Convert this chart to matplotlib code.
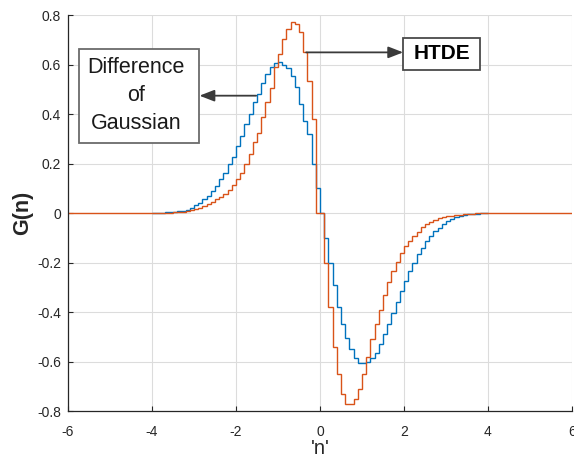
import numpy as np
import matplotlib
matplotlib.use("Agg")
import matplotlib.pyplot as plt
from matplotlib.patches import Rectangle

plt.rcParams['font.family'] = ['Liberation Sans', 'DejaVu Sans']

# ---- data (stairs: value of each 0.1-wide step, starting at the listed edge) ----
step_edges = np.round(np.arange(-4.0, 4.0001, 0.1), 1)   # 81 edges, 80 steps

dog_values = [
    0.001, 0.002, 0.002, 0.003, 0.004, 0.006, 0.008, 0.010, 0.014, 0.020,
    0.032, 0.042, 0.055, 0.069, 0.089, 0.109, 0.136, 0.163, 0.197, 0.227,
    0.270, 0.310, 0.360, 0.400, 0.447, 0.480, 0.527, 0.560, 0.590, 0.605,
    0.610, 0.600, 0.585, 0.555, 0.510, 0.440, 0.370, 0.320, 0.200, 0.100,
    0.000, -0.100, -0.200, -0.290, -0.380, -0.450, -0.505, -0.550, -0.585, -0.605,
    -0.605, -0.600, -0.585, -0.565, -0.530, -0.490, -0.447, -0.403, -0.360, -0.316,
    -0.273, -0.235, -0.200, -0.167, -0.140, -0.113, -0.093, -0.073, -0.059, -0.046,
    -0.032, -0.023, -0.017, -0.012, -0.008, -0.006, -0.004, -0.003, -0.002, -0.001,
]

htde_values = [
    0.001, 0.001, 0.001, 0.002, 0.002, 0.003, 0.004, 0.005, 0.008, 0.011,
    0.015, 0.021, 0.028, 0.038, 0.046, 0.055, 0.066, 0.078, 0.092, 0.113,
    0.136, 0.163, 0.197, 0.237, 0.285, 0.325, 0.386, 0.447, 0.507, 0.588,
    0.643, 0.703, 0.744, 0.770, 0.763, 0.730, 0.650, 0.534, 0.380, 0.000,
    0.000, -0.200, -0.380, -0.540, -0.650, -0.730, -0.770, -0.770, -0.750, -0.710,
    -0.650, -0.580, -0.510, -0.450, -0.390, -0.333, -0.278, -0.235, -0.198, -0.160,
    -0.134, -0.113, -0.093, -0.076, -0.057, -0.046, -0.036, -0.030, -0.021, -0.016,
    -0.012, -0.011, -0.008, -0.007, -0.006, -0.004, -0.003, -0.002, -0.001, -0.001,
]
htde_outer = [-6.0, 6.0]          # HTDE is zero out to the axis limits

x_ticks = [-6, -4, -2, 0, 2, 4, 6]
y_ticks = [-0.8, -0.6, -0.4, -0.2, 0, 0.2, 0.4, 0.6, 0.8]
y_ticklabels = ['-0.8', '-0.6', '-0.4', '-0.2', '0', '0.2', '0.4', '0.6', '0.8']

BLUE = '#0072BD'
ORANGE = '#D95319'
DARK = '#262626'

fig = plt.figure(figsize=(5.74, 4.61), dpi=100)
ax = fig.add_axes([68/574, 1-411/461, (572-68)/574, (411-15)/461])

ax.stairs(dog_values, step_edges, color=BLUE, lw=1.0, baseline=None)
htde_edges = np.concatenate([[htde_outer[0]], step_edges, [htde_outer[1]]])
htde_full = np.concatenate([[0.0], htde_values, [0.0]])
ax.stairs(htde_full, htde_edges, color=ORANGE, lw=1.0, baseline=None)

ax.set_xlim(-6, 6)
ax.set_ylim(-0.8, 0.8)
ax.set_xticks(x_ticks)
ax.set_xticklabels([str(t) for t in x_ticks])
ax.set_yticks(y_ticks)
ax.set_yticklabels(y_ticklabels)
ax.grid(True, color='#dcdcdc', lw=0.8)
ax.set_axisbelow(True)
for s in ['top', 'right']:
    ax.spines[s].set_visible(False)
for s in ['left', 'bottom']:
    ax.spines[s].set_color(DARK)
    ax.spines[s].set_linewidth(0.9)
ax.tick_params(direction='in', length=3.5, width=0.8, colors=DARK,
               labelsize=10)
ax.tick_params(axis='x', pad=10)
ax.tick_params(axis='y', pad=5)

ax.set_xlabel("'n'", fontsize=14.5, color=DARK, labelpad=0)
ax.set_ylabel("G(n)", fontsize=15.5, fontweight='bold', color=DARK, labelpad=3)

# ---- annotations ----
ax.add_patch(Rectangle((-5.73, 0.283), 2.86, 0.381, facecolor='white',
                       edgecolor='#6b6b6b', lw=1.3, zorder=5))
ax.text(-4.38, 0.474, "Difference\nof\nGaussian", ha='center', va='center',
        fontsize=15.5, color='#1a1a1a', linespacing=1.45, zorder=6)
ax.annotate('', xy=(-2.87, 0.474), xytext=(-1.52, 0.474),
            arrowprops=dict(arrowstyle='-|>,head_length=0.9,head_width=0.35',
                            color='#3a3a3a', lw=1.3, shrinkA=0, shrinkB=0),
            zorder=6)

ax.add_patch(Rectangle((1.98, 0.579), 1.84, 0.130, facecolor='white',
                       edgecolor='#4a4a4a', lw=1.3, zorder=5))
ax.text(2.9, 0.644, "HTDE", ha='center', va='center', fontsize=15,
        fontweight='bold', color='black', zorder=6)
ax.annotate('', xy=(1.98, 0.649), xytext=(-0.33, 0.649),
            arrowprops=dict(arrowstyle='-|>,head_length=0.9,head_width=0.35',
                            color='#3a3a3a', lw=1.3, shrinkA=0, shrinkB=0),
            zorder=6)

fig.savefig('out.png', dpi=100)
